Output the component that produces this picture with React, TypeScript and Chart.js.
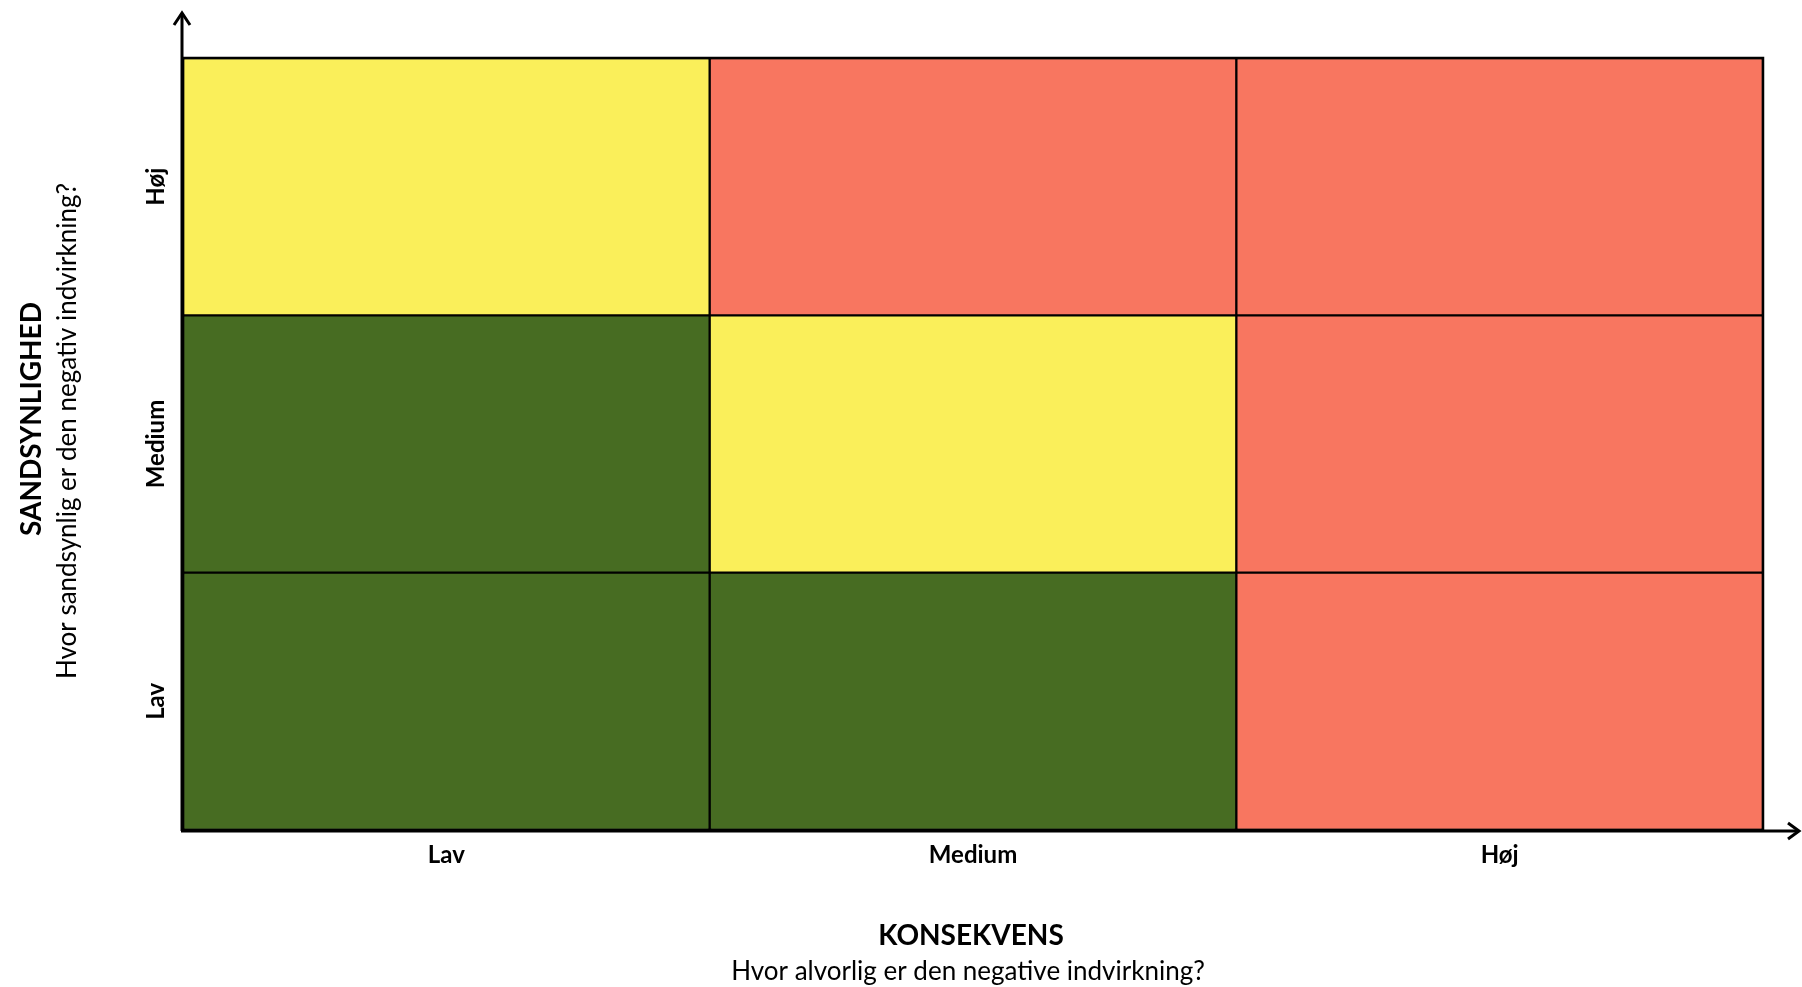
import React, { useEffect, useRef } from "react";
import { Chart, registerables } from "chart.js";

Chart.register(...registerables);

// ---- Data ----
const consequenceLabels = ["Lav", "Medium", "Høj"]; // x axis (KONSEKVENS)
const probabilityLabels = ["Lav", "Medium", "Høj"]; // y axis (SANDSYNLIGHED), bottom -> top
const cellSpan = [1, 1, 1]; // each cell occupies one unit on the probability axis
const riskRowLav = ["low", "low", "high"];
const riskRowMedium = ["low", "medium", "high"];
const riskRowHoj = ["medium", "high", "high"];

const xTitle = "KONSEKVENS";
const xSubtitle = "Hvor alvorlig er den negative indvirkning?";
const yTitle = "SANDSYNLIGHED";
const ySubtitle = "Hvor sandsynlig er den negativ indvirkning?";

// ---- Styles ----
const riskColors: Record<string, string> = {
  low: "rgb(71,108,34)",
  medium: "rgb(250,239,90)",
  high: "rgb(248,118,96)",
};
const FONT = "Lato, 'Open Sans', sans-serif";

const W = 1802;
const H = 987;

const decorPlugin = {
  id: "decor",
  afterDatasetsDraw(chart: any) {
    const { ctx, chartArea } = chart;
    const { left, top, right, bottom } = chartArea;
    ctx.save();
    // outer frame
    ctx.strokeStyle = "#000";
    ctx.lineWidth = 2.5;
    ctx.strokeRect(left, top, right - left, bottom - top);

    // axes with arrows
    ctx.lineWidth = 3;
    ctx.lineCap = "butt";
    ctx.beginPath();
    ctx.moveTo(left - 1, bottom + 1);
    ctx.lineTo(left - 1, top - 45);
    ctx.moveTo(left - 2, bottom + 1);
    ctx.lineTo(chart.width - 3, bottom + 1);
    ctx.stroke();
    ctx.lineJoin = "miter";
    ctx.beginPath();
    ctx.moveTo(left - 9, top - 33);
    ctx.lineTo(left - 1, top - 45);
    ctx.lineTo(left + 7, top - 33);
    ctx.stroke();
    ctx.beginPath();
    ctx.moveTo(chart.width - 14, bottom - 7);
    ctx.lineTo(chart.width - 3, bottom + 1);
    ctx.lineTo(chart.width - 14, bottom + 9);
    ctx.stroke();

    // y tick labels (rotated)
    const yScale = chart.scales.y;
    ctx.fillStyle = "#000";
    ctx.font = `bold 24px ${FONT}`;
    ctx.textAlign = "center";
    ctx.textBaseline = "alphabetic";
    probabilityLabels.forEach((lab, i) => {
      const yc = yScale.getPixelForValue(i + 0.5);
      ctx.save();
      ctx.translate(left - 19, yc);
      ctx.rotate(-Math.PI / 2);
      ctx.fillText(lab, 0, 0);
      ctx.restore();
    });

    // y axis title
    const ymid = (top + bottom) / 2;
    ctx.save();
    ctx.translate(41, ymid - 25);
    ctx.rotate(-Math.PI / 2);
    ctx.font = `bold 28px ${FONT}`;
    ctx.fillText(yTitle, 0, 0);
    ctx.restore();
    ctx.save();
    ctx.translate(76, ymid - 13);
    ctx.rotate(-Math.PI / 2);
    ctx.font = `26px ${FONT}`;
    ctx.fillText(ySubtitle, 0, 0);
    ctx.restore();

    // x axis title
    const xmid = (left + right) / 2;
    ctx.font = `bold 28px ${FONT}`;
    ctx.fillText(xTitle, xmid - 2, bottom + 115);
    ctx.font = `26px ${FONT}`;
    ctx.fillText(xSubtitle, xmid - 5, bottom + 150);
    ctx.restore();
  },
};

export default function App() {
  const ref = useRef<HTMLCanvasElement | null>(null);
  useEffect(() => {
    if (!ref.current) return;
    const rows = [riskRowLav, riskRowMedium, riskRowHoj];
    const chart = new Chart(ref.current, {
      type: "bar",
      data: {
        labels: consequenceLabels,
        datasets: rows.map((row, i) => ({
          label: probabilityLabels[i],
          data: cellSpan,
          backgroundColor: row.map((r) => riskColors[r]),
          borderColor: "#000",
          borderWidth: 1.5,
          borderSkipped: false,
          barPercentage: 1,
          categoryPercentage: 1,
        })),
      },
      options: {
        responsive: false,
        animation: false,
        devicePixelRatio: 1,
        layout: { padding: { top: 58, right: 39, left: 0, bottom: 0 } },
        plugins: {
          legend: { display: false },
          tooltip: { enabled: false },
          title: { display: false },
        },
        scales: {
          x: {
            type: "category",
            stacked: true,
            grid: { display: false },
            border: { display: false },
            ticks: {
              color: "#000",
              font: { family: FONT, size: 24, weight: "bold" },
              padding: 3,
              maxRotation: 0,
            },
            afterFit: (s: any) => {
              s.height = H - 830;
            },
          },
          y: {
            type: "linear",
            stacked: true,
            min: 0,
            max: probabilityLabels.length,
            grid: { display: false },
            border: { display: false },
            ticks: { display: false },
            afterFit: (s: any) => {
              s.width = 183;
            },
          },
        },
      },
      plugins: [decorPlugin],
    });
    return () => chart.destroy();
  }, []);
  return (
    <div style={{ position: "absolute", left: 0, top: 0, width: W, height: H, background: "#fff" }}>
      <canvas ref={ref} width={W} height={H} style={{ display: "block" }} />
    </div>
  );
}
